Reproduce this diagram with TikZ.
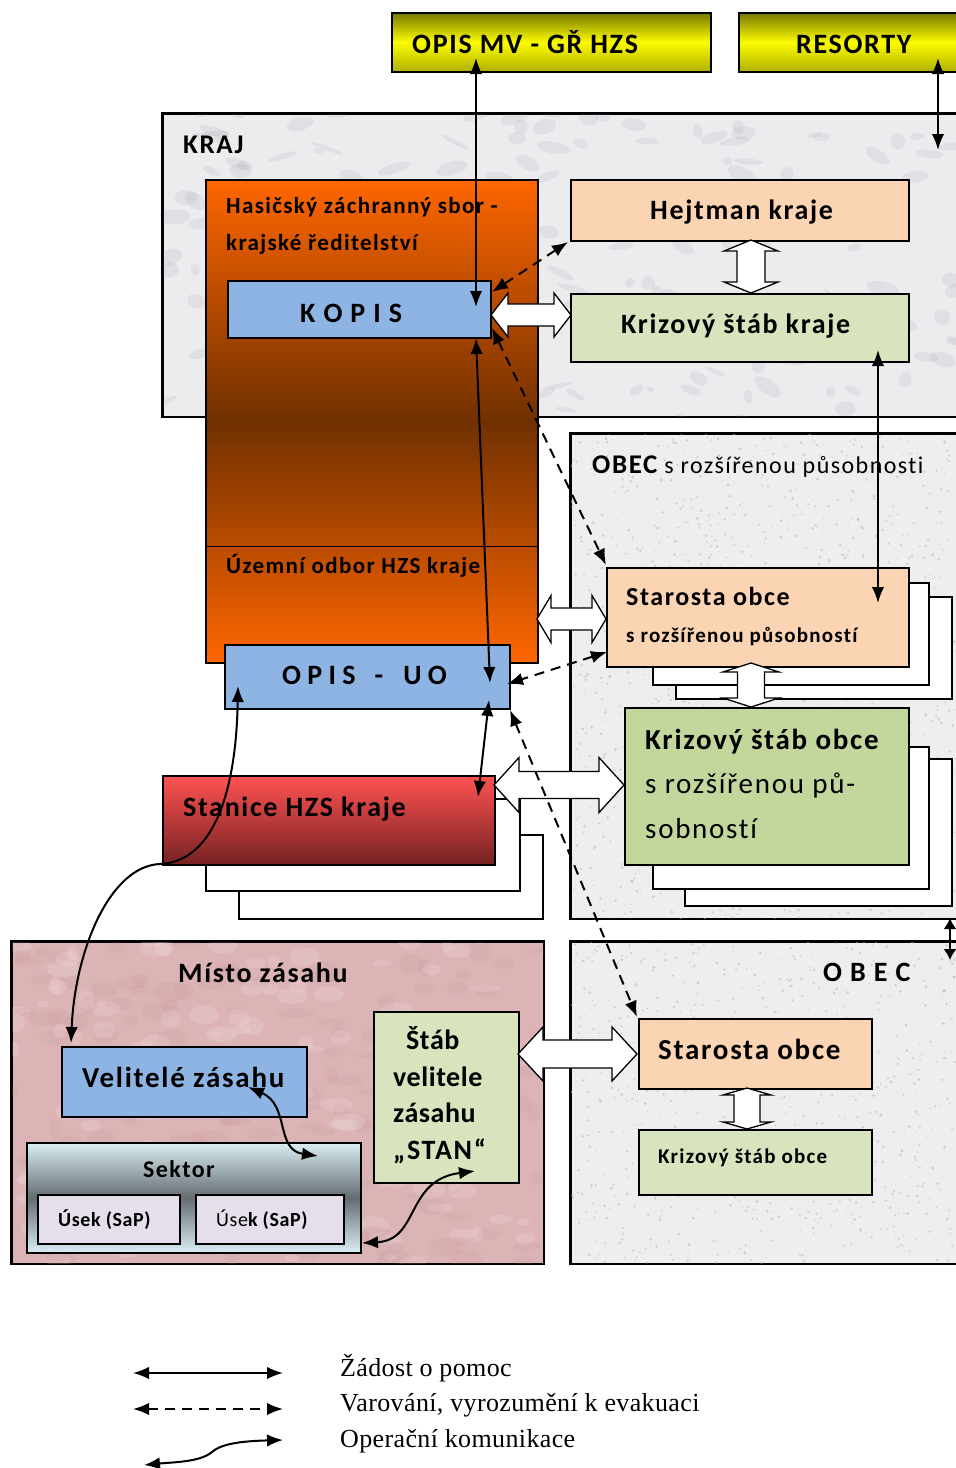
\documentclass[tikz,border=0pt]{standalone}
\usepackage{fontspec}
\setmainfont{Carlito}[LetterSpace=6, Ligatures=NoCommon]
\newfontfamily\legendfont{Liberation Serif}[LetterSpace=1.4]
\usetikzlibrary{arrows.meta,calc}
\definecolor{cblue}{RGB}{141,180,226}
\definecolor{cpeach}{RGB}{251,212,180}
\definecolor{cgreenl}{RGB}{215,228,189}
\definecolor{cgreen}{RGB}{195,214,155}
\definecolor{corange}{RGB}{255,102,0}
\definecolor{cbrown}{RGB}{112,48,0}
\definecolor{cyel}{RGB}{252,252,0}
\definecolor{colive}{RGB}{120,120,0}
\definecolor{colivel}{RGB}{175,175,0}
\definecolor{cred}{RGB}{255,82,82}
\definecolor{cdred}{RGB}{118,34,34}
\definecolor{ccyan}{RGB}{218,238,243}
\definecolor{cslate}{RGB}{100,108,112}
\definecolor{clav}{RGB}{229,223,236}
\definecolor{cmarble}{RGB}{236,236,239}
\definecolor{cvein}{RGB}{150,150,158}
\definecolor{cgranite}{RGB}{238,238,238}
\definecolor{cspeck}{RGB}{185,185,185}
\definecolor{cpink}{RGB}{220,180,182}
\definecolor{cpinkd}{RGB}{190,140,146}
\newcommand{\myHarrow}[6]{\draw[hollow] (#1,#3) -- ({#1+#6},{#3-#4}) -- ({#1+#6},{#3-#5}) -- ({#2-#6},{#3-#5}) -- ({#2-#6},{#3-#4}) -- (#2,#3) -- ({#2-#6},{#3+#4}) -- ({#2-#6},{#3+#5}) -- ({#1+#6},{#3+#5}) -- ({#1+#6},{#3+#4}) -- cycle;}
\newcommand{\myVarrow}[6]{\draw[hollow] (#3,#1) -- ({#3-#4},{#1+#6}) -- ({#3-#5},{#1+#6}) -- ({#3-#5},{#2-#6}) -- ({#3-#4},{#2-#6}) -- (#3,#2) -- ({#3+#4},{#2-#6}) -- ({#3+#5},{#2-#6}) -- ({#3+#5},{#1+#6}) -- ({#3+#4},{#1+#6}) -- cycle;}
\tikzset{
  bx/.style={draw=black, line width=1.5pt, inner sep=0pt, anchor=north west},
  frame/.style={draw=black, line width=1.5pt},
  lbl/.style={anchor=base west, inner sep=0pt},
  fsz/.style={font=\fontsize{#1}{#1}\selectfont\bfseries},
  fsr/.style={font=\fontsize{#1}{#1}\selectfont},
  tipa/.tip={Latex[length=16pt,width=12.5pt]},
  conn/.style={line width=2pt, tipa-tipa},
  dconn/.style={conn, dash pattern=on 10pt off 7pt},
  hollow/.style={draw=black, line width=1.3pt, fill=white, line join=miter},
}
\begin{document}
\begin{tikzpicture}[x=1pt,y=-1pt]
\useasboundingbox (0,0) rectangle (956,1468);
\fill[white] (0,0) rectangle (956,1468);
\pgfmathsetseed{7}
% top boxes
\node[bx, minimum width=319pt, minimum height=59pt, top color=colive, bottom color=colivel, middle color=cyel] (opismv) at (391,12) {};
\node[bx, minimum width=240pt, minimum height=59pt, top color=colive, bottom color=colivel, middle color=cyel] (resorty) at (738,12) {};
\node[lbl, fsz=28] (topismv) at (412,53) {OPIS MV - GŘ HZS};
\node[lbl, fsz=28] (tresorty) at (796,53) {RESORTY};
% region KRAJ (marble)
\node[bx, fill=cmarble, minimum width=820pt, minimum height=303pt] (kraj) at (162,113) {};
\begin{scope}
  \clip (kraj.north west) rectangle (kraj.south east);
  \foreach \i in {1,...,260}{
    \fill[cvein, opacity=0.13, rotate around={{70*rnd-35}:({162+820*rnd},{113+303*rnd})}]
      ({162+820*rnd},{113+303*rnd}) ellipse [x radius={4+14*rnd}, y radius={2+6*rnd}];
  }
\end{scope}
\draw[frame] (kraj.north west) rectangle (kraj.south east);
\node[lbl, fsz=27] (tkraj) at (183,153) {KRAJ};
% OBEC s rozsirenou pusobnosti (granite)
\node[bx, fill=cgranite, minimum width=400pt, minimum height=485pt] (obecorp) at (570,433) {};
\node[bx, fill=cgranite, minimum width=400pt, minimum height=322pt] (obec) at (570,941) {};
\begin{scope}
  \clip (obecorp.north west) rectangle (obecorp.south east) (obec.north west) rectangle (obec.south east);
  \foreach \i in {1,...,2200}{
    \fill[cspeck, opacity=0.55] ({570+400*rnd},{433+830*rnd}) circle [radius={0.5+1.1*rnd}];
  }
\end{scope}
\draw[frame] (obecorp.north west) rectangle (obecorp.south east);
\draw[frame] (obec.north west) rectangle (obec.south east);
\node[lbl, fsz=27] (tobecorp) at (592,473) {OBEC\mdseries\fontsize{24}{24}\selectfont{} s rozšířenou působnosti};
\node[lbl, fsz=28] (tobec) at (823,981) {O B E C};
% Misto zasahu (pink)
\node[bx, fill=cpink, minimum width=532pt, minimum height=322pt] (misto) at (11,941) {};
\begin{scope}
  \clip (misto.north west) rectangle (misto.south east);
  \foreach \i in {1,...,160}{
    \fill[cpinkd, opacity=0.12] ({11+532*rnd},{941+322*rnd}) ellipse [x radius={5+14*rnd}, y radius={3+8*rnd}];
  }
  \foreach \i in {1,...,120}{
    \fill[white, opacity=0.12] ({11+532*rnd},{941+322*rnd}) ellipse [x radius={5+12*rnd}, y radius={3+7*rnd}];
  }
\end{scope}
\draw[frame] (misto.north west) rectangle (misto.south east);
\node[lbl, fsz=28] (tmisto) at (178,982) {Místo zásahu};
% HZS
\node[bx, minimum width=332pt, minimum height=483pt, top color=corange, bottom color=corange, middle color=cbrown] (hzs) at (205,179) {};
\draw[line width=1.2pt] ($(hzs.south west)+(0,-117)$) coordinate (hzsdivl) -- ($(hzs.south east)+(0,-117)$) coordinate (hzsdivr);
\node[lbl, fsz=23] (thzs1) at (226,213) {Hasičský záchranný sbor -};
\node[lbl, fsz=23] (thzs2) at (226,250) {krajské ředitelství};
\node[lbl, fsz=23] (tuo) at (226,573) {Územní odbor HZS kraje};
\node[bx, fill=cblue, minimum width=263pt, minimum height=57pt] (kopis) at (227,280) {};
\node[lbl, fsz=28] (tkopis) at (300,322) {K O P I S};
% kraj right
\node[bx, fill=cpeach, minimum width=338pt, minimum height=61pt] (hejtman) at (570,179) {};
\node[lbl, fsz=28] (thejtman) at (650,219) {Hejtman kraje};
\node[bx, fill=cgreenl, minimum width=338pt, minimum height=68pt] (kskraj) at (570,293) {};
\node[lbl, fsz=28] (tkskraj) at (621,333) {Krizový štáb kraje};
% ORP
\node[bx, fill=white, minimum width=276pt, minimum height=102pt] (sb2) at (675,596) {};
\node[bx, fill=white, minimum width=276pt, minimum height=102pt] (sb1) at (652,582) {};
\node[bx, fill=cpeach, minimum width=302pt, minimum height=99pt] (starorp) at (606,567) {};
\node[lbl, fsz=26] (tstarorp1) at (626,605) {Starosta obce};
\node[lbl, fsz=21] (tstarorp2) at (626,642) {s rozšířenou působností};
\node[bx, fill=white, minimum width=267pt, minimum height=147pt] (kb2) at (684,758) {};
\node[bx, fill=white, minimum width=276pt, minimum height=142pt] (kb1) at (652,746) {};
\node[bx, fill=cgreen, minimum width=284pt, minimum height=157pt] (ksorp) at (624,707) {};
\node[lbl, fsz=29] (tksorp1) at (645,749) {Krizový štáb obce};
\node[lbl, fsr=29] (tksorp2) at (645,793) {s rozšířenou pů-};
\node[lbl, fsr=29] (tksorp3) at (645,838) {sobností};
% OPIS UO and stanice
\node[bx, fill=cblue, minimum width=285pt, minimum height=64pt] (opisuo) at (224,644) {};
\node[lbl, fsz=28] (topisuo) at (282,684) {\addfontfeature{LetterSpace=0}O P I S\hspace{19pt}-\hspace{20pt}U O};
\node[bx, fill=white, minimum width=304pt, minimum height=84pt] (st2) at (238,834) {};
\node[bx, fill=white, minimum width=314pt, minimum height=92pt] (st1) at (205,798) {};
\node[bx, minimum width=332pt, minimum height=89pt, top color=cred, bottom color=cdred] (stanice) at (162,775) {};
\node[lbl, fsz=28] (tstanice) at (183,816) {Stanice HZS kraje};
% misto zasahu contents
\node[bx, fill=cblue, minimum width=245pt, minimum height=70pt] (velitele) at (61,1046) {};
\node[lbl, fsz=29] (tvelitele) at (82,1087) {Velitelé zásahu};
\node[bx, minimum width=334pt, minimum height=110pt, top color=ccyan, bottom color=ccyan, middle color=cslate] (sektor) at (26,1142) {};
\node[lbl, fsz=24] (tsektor) at (143,1177) {Sektor};
\node[bx, fill=clav, minimum width=142pt, minimum height=49pt] (usek1) at (37,1194) {};
\node[lbl, fsz=20] (tusek1) at (58,1226) {\addfontfeature{LetterSpace=3}Úsek (SaP)};
\node[bx, fill=clav, minimum width=148pt, minimum height=49pt] (usek2) at (195,1194) {};
\node[lbl, fsz=20] (tusek2) at (216,1226) {\addfontfeature{LetterSpace=3}\mdseries Úse\bfseries k (SaP)};
\node[bx, fill=cgreenl, minimum width=145pt, minimum height=171pt] (stab) at (373,1011) {};
\node[lbl, fsz=28] (tstab1) at (406,1049) {\addfontfeature{LetterSpace=2}Štáb};
\node[lbl, fsz=28] (tstab2) at (393,1086) {\addfontfeature{LetterSpace=2}velitele};
\node[lbl, fsz=28] (tstab3) at (393,1122) {\addfontfeature{LetterSpace=2}zásahu};
\node[lbl, fsz=28] (tstab4) at (393,1159) {„STAN“};
% obec contents
\node[bx, fill=cpeach, minimum width=233pt, minimum height=70pt] (starosta) at (638,1018) {};
\node[lbl, fsz=29] (tstarosta) at (658,1059) {Starosta obce};
\node[bx, fill=cgreenl, minimum width=233pt, minimum height=65pt] (ksobce) at (638,1129) {};
\node[lbl, fsz=21] (tksobce) at (658,1163) {Krizový štáb obce};
% hollow arrows
\myHarrow{491}{571}{315}{22}{11}{17}
\myVarrow{240}{293}{751}{27}{14}{11}
\myHarrow{537}{606}{619}{23.5}{11}{14}
\myVarrow{663}{707}{751}{28}{13.5}{9}
\myHarrow{494}{624}{785}{27.5}{13.5}{25}
\myHarrow{518}{637}{1054}{27}{14}{25}
\myVarrow{1088}{1129}{747}{24}{13}{7}
% connector end points
\coordinate (c1a) at (476,58); \coordinate (c1b) at (476,307);
\coordinate (c2a) at (938,58); \coordinate (c2b) at (938,150);
\coordinate (d1a) at (568,242); \coordinate (d1b) at (492,292);
\coordinate (d2a) at (492,328); \coordinate (d2b) at (606,565);
\coordinate (s3a) at (476,338); \coordinate (s3b) at (490,683);
\coordinate (s4a) at (878,350); \coordinate (s4b) at (878,603);
\coordinate (d3a) at (607,652); \coordinate (d3b) at (507,684);
\coordinate (s5a) at (489,700); \coordinate (s5b) at (478,797);
\coordinate (d4a) at (510,710); \coordinate (d4b) at (637,1017);
\coordinate (k1a) at (238,686); \coordinate (k1b) at (71,1043);
\coordinate (k2a) at (248,1087); \coordinate (k2b) at (318,1156);
\coordinate (k3a) at (362,1243); \coordinate (k3b) at (475,1171);
\coordinate (r1a) at (950,918); \coordinate (r1b) at (950,960);
% connectors
\draw[conn] (c1a) -- (c1b);
\draw[conn] (c2a) -- (c2b);
\draw[dconn] (d1a) -- (d1b);
\draw[dconn] (d2a) -- (d2b);
\draw[conn] (s3a) -- (s3b);
\draw[conn] (s4a) -- (s4b);
\draw[dconn] (d3a) -- (d3b);
\draw[conn] (s5a) -- (s5b);
\draw[dconn] (d4a) -- (d4b);
\draw[conn] (k1a) .. controls (236,800) and (210,862) .. (160,864) .. controls (110,866) and (75,950) .. (k1b);
\draw[conn] (k2a) .. controls (290,1105) and (275,1150) .. (k2b);
\draw[conn] (k3a) .. controls (420,1240) and (405,1180) .. (k3b);
\draw[line width=2pt, {Latex[length=11pt,width=13pt]}-{Latex[length=11pt,width=13pt]}] (r1a) -- (r1b);
% legend
\coordinate (l1a) at (133,1373); \coordinate (l1b) at (283,1373);
\coordinate (l2a) at (133,1409); \coordinate (l2b) at (283,1409);
\coordinate (l3a) at (144,1465); \coordinate (l3b) at (283,1440);
\draw[conn] (l1a) -- (l1b);
\draw[dconn] (l2a) -- (l2b);
\draw[conn] (l3a) .. controls (175,1462) and (200,1462) .. (212,1452) .. controls (222,1443) and (245,1441) .. (l3b);
\node[lbl, font=\legendfont\fontsize{26}{26}\selectfont] (leg1) at (340,1376) {Žádost o pomoc};
\node[lbl, font=\legendfont\fontsize{26}{26}\selectfont] (leg2) at (340,1411) {Varování, vyrozumění k evakuaci};
\node[lbl, font=\legendfont\fontsize{26}{26}\selectfont] (leg3) at (340,1447) {Operační komunikace};
\end{tikzpicture}
\end{document}
